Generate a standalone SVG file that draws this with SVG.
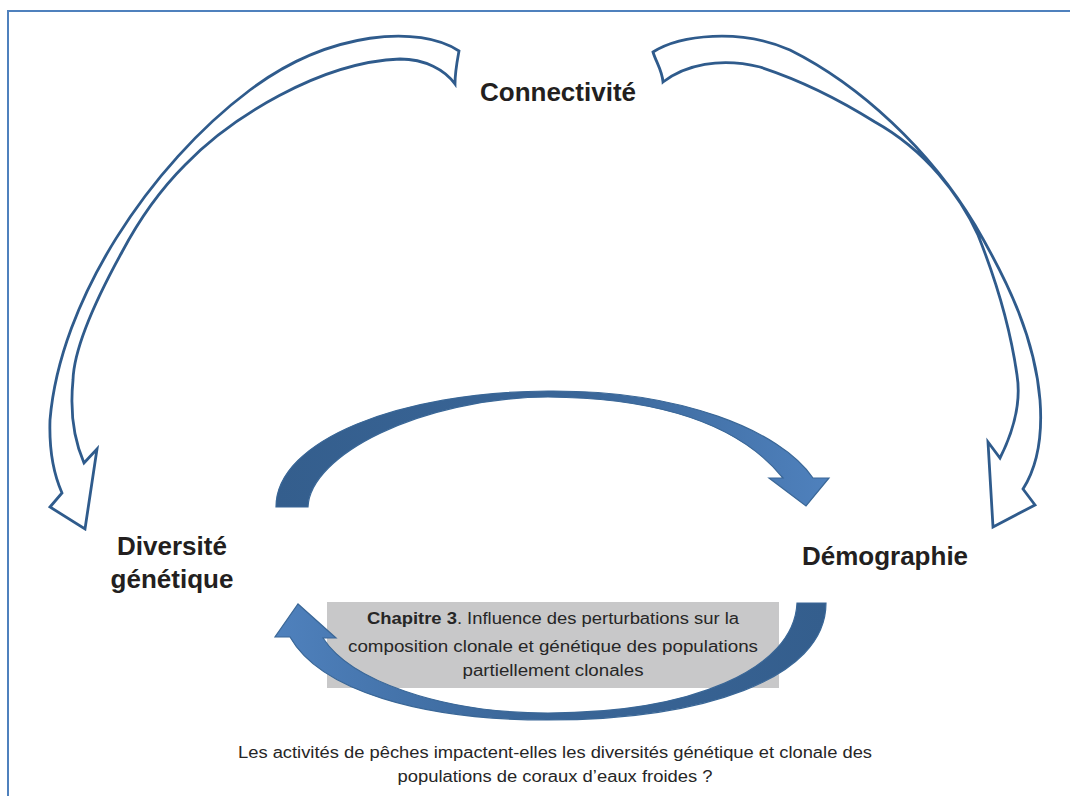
<svg xmlns="http://www.w3.org/2000/svg" width="1070" height="796" viewBox="0 0 1070 796">
<defs>
<linearGradient id="gTop" x1="276" y1="0" x2="830" y2="0" gradientUnits="userSpaceOnUse">
<stop offset="0" stop-color="#345E8D"/><stop offset="0.55" stop-color="#3A6698"/><stop offset="1" stop-color="#4F81BD"/>
</linearGradient>
<linearGradient id="gBot" x1="826" y1="0" x2="275" y2="0" gradientUnits="userSpaceOnUse">
<stop offset="0" stop-color="#345E8D"/><stop offset="0.55" stop-color="#3A6698"/><stop offset="1" stop-color="#4F81BD"/>
</linearGradient>
<style>
.outline{fill:#ffffff;stroke:#2F5B8C;stroke-width:2.8;stroke-linejoin:miter}
.solid{stroke:#3A6797;stroke-width:1.2;stroke-linejoin:miter}
.label{font-family:"Liberation Sans",Arial,sans-serif;font-weight:bold;font-size:26px;fill:#231F20;text-anchor:middle}
.small{font-family:"Liberation Sans",Arial,sans-serif;font-size:16px;fill:#262626;text-anchor:middle}
.border{stroke:#4F81BD;stroke-width:2;fill:none}
</style>
</defs>
<rect x="0" y="0" width="1070" height="796" fill="#ffffff"/>
<path class="border" d="M8,796 L8,11 L1070,11"/>

<g id="node-chapitre">
<rect x="327" y="602" width="452" height="86" fill="#C8C8C9"/>
<text class="small" font-size="17" x="553" y="624" textLength="372" lengthAdjust="spacingAndGlyphs"><tspan font-weight="bold">Chapitre 3</tspan>. Influence des perturbations sur la</text>
<text class="small" font-size="17" x="553" y="652" textLength="410" lengthAdjust="spacingAndGlyphs">composition clonale et génétique des populations</text>
<text class="small" font-size="17" x="553" y="676" textLength="181" lengthAdjust="spacingAndGlyphs">partiellement clonales</text>
</g>

<g id="connectors">
<path id="arrow-connectivite-diversite" class="outline" d="M459,51 C420,25 330,30 250,90 C150,165 60,300 50,420 C49,450 54,475 62,493 L50,507 L85,529 L97,449 L84,463 C74,440 70,410 73,380 C74,345 100,292 122,252 C140,218 160,190 185,165 C230,118 320,62 400,59 C425,59 445,70 455,84 C455,72 457,62 459,51 Z"/>
<path id="arrow-connectivite-demographie" class="outline" d="M653,52 C680,35 740,28 790,50 C860,85 930,150 975,225 C1010,285 1035,340 1040,400 C1043,440 1035,470 1023,489 L1035,505 L993,527 L988,442 L1000,458 C1014,430 1021,400 1017,375 C1012,340 1000,290 978,235 C960,195 925,150 875,122 C840,100 800,80 760,67 C720,57 685,65 663,82 C662,70 656,62 653,52 Z"/>
<path id="arrow-diversite-demographie" class="solid" fill="url(#gTop)" d="M276,507 C276,440 400,392 548,391 C680,390 780,430 813,478 L829,478 L806,506 L769,478 L783,478 C740,425 660,398 548,397 C420,398 310,455 308,507 Z"/>
<path id="arrow-demographie-diversite" class="solid" fill="url(#gBot)" d="M826,603 C826,680 700,720 548,720 C420,720 320,690 290,637 L275,637 L298,604 L336,638 L323,638 C350,680 440,713 548,713 C690,713 794,670 797,603 Z"/>
</g>

<g id="node-connectivite">
<text class="label" x="558" y="101">Connectivité</text>
</g>
<g id="node-diversite">
<text class="label" x="172" y="555">Diversité</text>
<text class="label" x="172" y="588">génétique</text>
</g>
<g id="node-demographie">
<text class="label" x="885" y="565">Démographie</text>
</g>
<g id="node-question">
<text class="small" x="555" y="758" textLength="634" lengthAdjust="spacingAndGlyphs">Les activités de pêches impactent-elles les diversités génétique et clonale des</text>
<text class="small" x="555" y="782" textLength="315" lengthAdjust="spacingAndGlyphs">populations de coraux d’eaux froides ?</text>
</g>
</svg>
